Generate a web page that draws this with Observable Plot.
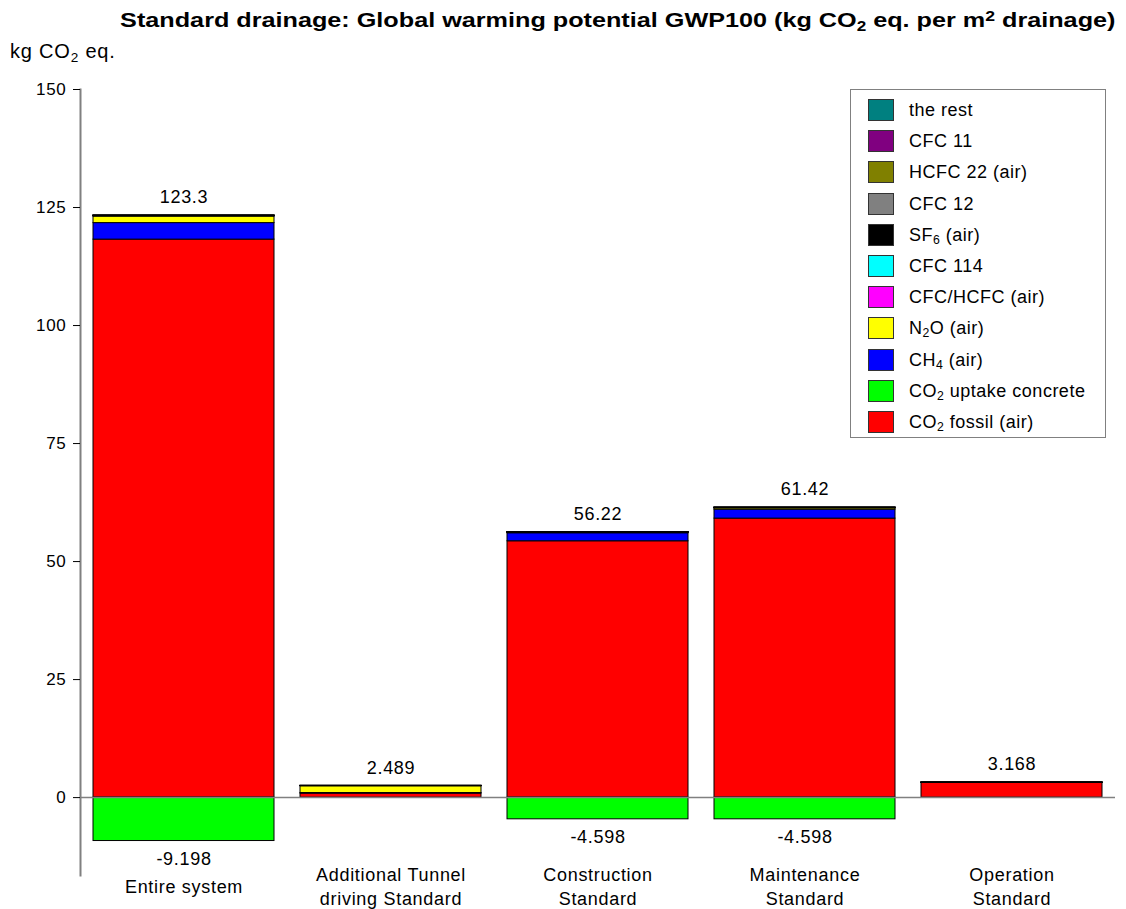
<!DOCTYPE html>
<html>
<head>
<meta charset="utf-8">
<script src="https://cdn.jsdelivr.net/npm/d3@7"></script>
<script src="https://cdn.jsdelivr.net/npm/@observablehq/plot@0.6"></script>
<style>
  html, body { margin: 0; padding: 0; background: #fff; }
  body { font-family: "Liberation Sans", Arial, sans-serif; color: #000; }
  #wrap { position: relative; width: 1126px; height: 909px; overflow: hidden; }
  #title { position: absolute; right: 11px; top: 7px; font-size: 21px; line-height: 26px; font-weight: bold; white-space: nowrap; transform: scaleX(1.2); transform-origin: right center; }
  #unit { position: absolute; left: 10px; top: 40px; font-size: 20px; line-height: 22px; letter-spacing: 0.8px; white-space: nowrap; }
  #chart { position: absolute; left: 0; top: 60px; }
  #legend { position: absolute; left: 850px; top: 89px; width: 254px; height: 347px; border: 1px solid #808080; background: #fff; }
  .row { position: absolute; left: 0; height: 22px; }
  .sw { position: absolute; left: 17px; top: 0; width: 24px; height: 20px; border: 1px solid #333; }
  .lab { position: absolute; left: 58px; top: 0px; font-size: 18px; letter-spacing: 0.5px; white-space: nowrap; line-height: 22px; }
  sub { font-size: 0.68em; vertical-align: -0.28em; line-height: 0; }
  sup { font-size: 0.7em; vertical-align: 0.4em; line-height: 0; }
</style>
</head>
<body>
<div id="wrap">
  <div id="title">Standard drainage: Global warming potential GWP100 (kg CO<sub>2</sub> eq. per m<sup>2</sup> drainage)</div>
  <div id="unit">kg CO<sub>2</sub> eq.</div>
  <div id="chart"></div>
  <div id="legend"></div>
</div>
<script>
// ---- data ----
const categories = ["Entire system", "Additional Tunnel driving Standard", "Construction Standard", "Maintenance Standard", "Operation Standard"];
const categoryLabels = ["Entire system", "Additional Tunnel\ndriving Standard", "Construction\nStandard", "Maintenance\nStandard", "Operation\nStandard"];

const seriesNames = ["CO2 fossil (air)", "CO2 uptake concrete", "CH4 (air)", "N2O (air)", "CFC/HCFC (air)", "CFC 114", "SF6 (air)", "CFC 12", "HCFC 22 (air)", "CFC 11", "the rest"];
const seriesColors = ["#FF0000", "#00FF00", "#0000FF", "#FFFF00", "#FF00FF", "#00FFFF", "#000000", "#808080", "#808000", "#800080", "#008080"];
const legendLabels = ["CO<sub>2</sub> fossil (air)", "CO<sub>2</sub> uptake concrete", "CH<sub>4</sub> (air)", "N<sub>2</sub>O (air)", "CFC/HCFC (air)", "CFC 114", "SF<sub>6</sub> (air)", "CFC 12", "HCFC 22 (air)", "CFC 11", "the rest"];

const co2Fossil   = [118.2, 0.85, 54.3, 59.1, 3.1];
const co2Uptake   = [-9.198, 0, -4.598, -4.598, 0];
const ch4         = [3.5, 0.12, 1.7, 1.9, 0.03];
const n2o         = [1.4, 1.45, 0.12, 0.3, 0.02];
const cfcHcfc     = [0.05, 0.01, 0.02, 0.02, 0.003];
const cfc114      = [0.02, 0.005, 0.01, 0.01, 0.002];
const sf6         = [0.08, 0.04, 0.06, 0.08, 0.01];
const cfc12       = [0.02, 0.005, 0.005, 0.005, 0.001];
const hcfc22      = [0.01, 0.004, 0.003, 0.003, 0.001];
const cfc11       = [0.01, 0.003, 0.001, 0.001, 0.0005];
const theRest     = [0.01, 0.002, 0.001, 0.001, 0.0005];

const totals      = [123.3, 2.489, 56.22, 61.42, 3.168];
const totalLabels = ["123.3", "2.489", "56.22", "61.42", "3.168"];
const negTotals   = [-9.198, -4.598, -4.598];
const negCats     = ["Entire system", "Construction Standard", "Maintenance Standard"];
const negLabels   = ["-9.198", "-4.598", "-4.598"];

const yTicks = [0, 25, 50, 75, 100, 125, 150];

// ---- build table ----
const seriesValues = [co2Fossil, co2Uptake, ch4, n2o, cfcHcfc, cfc114, sf6, cfc12, hcfc22, cfc11, theRest];
const rows = [];
seriesNames.forEach((s, si) => {
  categories.forEach((c, ci) => {
    const v = seriesValues[si][ci];
    if (v !== 0) rows.push({category: c, series: s, value: v});
  });
});

const chart = Plot.plot({
  width: 1126,
  height: 849,
  marginLeft: 80,
  marginRight: 11,
  marginTop: 29,
  marginBottom: 34,
  style: {fontFamily: '"Liberation Sans", Arial, sans-serif', fontSize: "18px", letterSpacing: "0.7px", background: "transparent", overflow: "visible"},
  x: {domain: categories, paddingInner: 0.125, paddingOuter: 0.0625, axis: null},
  y: {domain: [-16.5, 150], axis: null},
  color: {domain: seriesNames, range: seriesColors},
  marks: [
    Plot.gridY(yTicks, {stroke: "#000", strokeOpacity: 0.9, strokeDasharray: "2,1.5", x1: 73}),
    Plot.barY(rows, {x: "category", y: "value", fill: "series", z: "series", order: seriesNames, stroke: "#000", strokeWidth: 1, inset: 0}),
    Plot.ruleY([0], {stroke: "#808080", strokeWidth: 1.5}),
    Plot.frame({anchor: "left", stroke: "#808080", strokeWidth: 2}),
    Plot.axisY({ticks: yTicks, tickSize: 7, tickPadding: 7, fontSize: 17, tickFormat: d => String(d), label: null, stroke: "#000"}),
    Plot.text(categories, {x: d => d, y: (d, i) => totals[i], text: (d, i) => totalLabels[i], dy: -18, fontSize: 18, fill: "#000", stroke: "#fff", strokeWidth: 8, paintOrder: "stroke"}),
    Plot.text(negCats, {x: d => d, y: (d, i) => negTotals[i], text: (d, i) => negLabels[i], dy: 18, fontSize: 18, fill: "#000"}),
    Plot.text(categories, {x: d => d, frameAnchor: "bottom", text: (d, i) => categoryLabels[i], dy: 10, lineAnchor: "middle", lineHeight: 1.3, fontSize: 18, fill: "#000"})
  ]
});
document.getElementById("chart").appendChild(chart);

// ---- legend (top entry = last series) ----
const legend = document.getElementById("legend");
const order = seriesNames.map((s, i) => i).reverse();
order.forEach((si, k) => {
  const row = document.createElement("div");
  row.className = "row";
  row.style.top = (9 + k * 31.2) + "px";
  const sw = document.createElement("div");
  sw.className = "sw";
  sw.style.background = seriesColors[si];
  const lab = document.createElement("div");
  lab.className = "lab";
  lab.innerHTML = legendLabels[si];
  row.appendChild(sw);
  row.appendChild(lab);
  legend.appendChild(row);
});
</script>
</body>
</html>
